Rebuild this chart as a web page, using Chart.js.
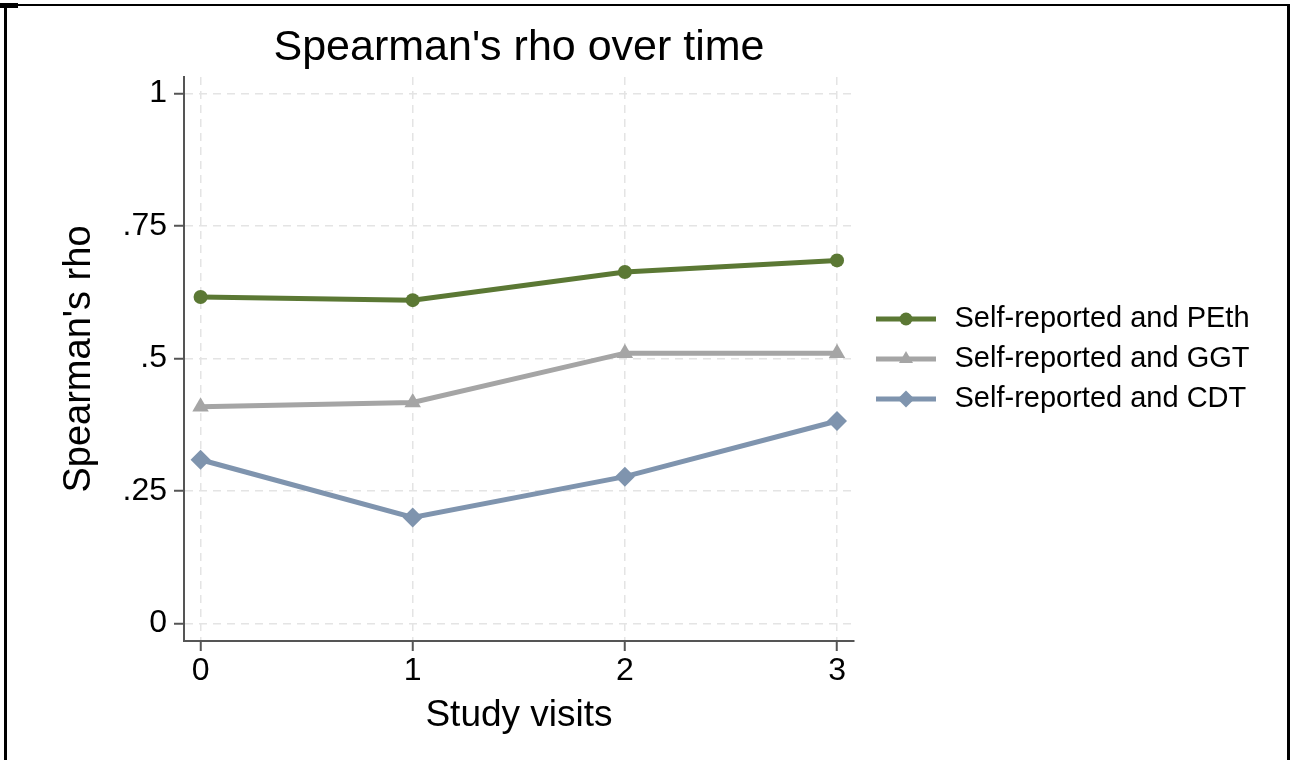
<!DOCTYPE html>
<html>
<head>
<meta charset="utf-8">
<script src="https://cdn.jsdelivr.net/npm/chart.js@4.4.0/dist/chart.umd.min.js"></script>
<style>
html,body{margin:0;padding:0;background:#fff;}
#wrap{position:absolute;left:0;top:0;width:1290px;height:760px;overflow:hidden;}
canvas{position:absolute;left:0;top:0;}
#frame{position:absolute;left:4px;top:4px;width:1286px;height:780px;border-left:3px solid #000;border-top:2px solid #000;border-right:3px solid #000;box-sizing:border-box;}
#mark{position:absolute;left:0;top:3px;width:18px;height:5px;background:#000;}
</style>
</head>
<body>
<div id="wrap">
<canvas id="c" width="1290" height="760"></canvas>
<div id="frame"></div>
<div id="mark"></div>
</div>
<script>
// ---- data ----
const visits = [0, 1, 2, 3];
const pethRho = [0.616, 0.610, 0.663, 0.685];
const ggtRho = [0.409, 0.417, 0.510, 0.510];
const cdtRho = [0.309, 0.200, 0.277, 0.382];
const seriesLabels = ['Self-reported and PEth', 'Self-reported and GGT', 'Self-reported and CDT'];
const yTickValues = [0, 0.25, 0.5, 0.75, 1];
const yTickLabels = ['0', '.25', '.5', '.75', '1'];
const xTickValues = [0, 1, 2, 3];
const xTickLabels = ['0', '1', '2', '3'];

// ---- styles ----
const FONT = "'Liberation Sans', Arial, Helvetica, sans-serif";
const colors = ['#5b7834', '#a5a5a5', '#7f94ae'];
const shapes = ['circle', 'triangle', 'rectRot'];
const radii = [7, 9.5, 10];
const LEGEND_FONT = 29, LEGEND_PAD = 11, ICON_W = 75;

function makeIcon(color, shape) {
  const c = document.createElement('canvas');
  c.width = ICON_W; c.height = 22;
  const g = c.getContext('2d');
  g.strokeStyle = color; g.fillStyle = color; g.lineWidth = 5;
  g.beginPath(); g.moveTo(11, 11); g.lineTo(71, 11); g.stroke();
  const cx = 41, cy = 11;
  g.beginPath();
  if (shape === 'circle') { g.arc(cx, cy, 6.5, 0, Math.PI * 2); }
  else if (shape === 'triangle') { g.moveTo(cx, cy - 8); g.lineTo(cx + 7, cy + 4); g.lineTo(cx - 7, cy + 4); g.closePath(); }
  else { g.moveTo(cx, cy - 8.5); g.lineTo(cx + 8.5, cy); g.lineTo(cx, cy + 8.5); g.lineTo(cx - 8.5, cy); g.closePath(); }
  g.fill();
  return c;
}
const icons = colors.map((c, i) => makeIcon(c, shapes[i]));

// measure legend width to place the plot area's right edge
const mctx = document.createElement('canvas').getContext('2d');
mctx.font = LEGEND_FONT + 'px ' + FONT;
const maxText = Math.max(...seriesLabels.map(t => mctx.measureText(t).width));
const legendW = LEGEND_PAD + ICON_W + LEGEND_FONT / 2 + maxText + 10;
const PLOT_RIGHT = 854;
const padRight = Math.max(0, 1290 - PLOT_RIGHT - legendW);

const seriesValues = [pethRho, ggtRho, cdtRho];
const datasets = seriesValues.map((vals, i) => ({
  label: seriesLabels[i],
  data: visits.map((v, k) => ({ x: v, y: vals[k] })),
  borderColor: colors[i],
  backgroundColor: colors[i],
  borderWidth: 5,
  pointStyle: shapes[i],
  pointRadius: radii[i],
  pointBorderWidth: 0,
  pointBackgroundColor: colors[i],
  pointBorderColor: colors[i],
  tension: 0,
  fill: false,
  clip: false
}));
Chart.defaults.font.family = FONT;
Chart.defaults.color = '#000';

new Chart(document.getElementById('c'), {
  type: 'line',
  data: { datasets },
  options: {
    responsive: false,
    animation: false,
    devicePixelRatio: 1,
    layout: { padding: { left: 40, right: padRight, top: 10, bottom: 0 } },
    plugins: {
      title: {
        display: true,
        text: "Spearman's rho over time",
        fullSize: false,
        color: '#000',
        font: { size: 43, weight: 'normal' },
        padding: { top: 12.7, bottom: 2.7 }
      },
      legend: {
        display: true,
        position: 'right',
        fullSize: false,
        align: 'center',
        maxWidth: 600,
        labels: {
          usePointStyle: true,
          pointStyleWidth: ICON_W,
          boxHeight: LEGEND_FONT,
          padding: LEGEND_PAD,
          color: '#000',
          font: { size: LEGEND_FONT },
          generateLabels: (chart) => chart.data.datasets.map((ds, i) => ({
            text: ds.label,
            pointStyle: icons[i],
            fillStyle: ds.borderColor,
            strokeStyle: ds.borderColor,
            lineWidth: 0,
            hidden: false,
            datasetIndex: i
          }))
        }
      },
      tooltip: { enabled: false }
    },
    scales: {
      x: {
        type: 'linear',
        min: -0.078,
        max: 3.08,
        afterFit: (s) => { s.height = 119; },
        afterBuildTicks: (s) => { s.ticks = xTickValues.map(v => ({ value: v })); },
        ticks: {
          autoSkip: false,
          maxRotation: 0,
          padding: 1,
          color: '#000',
          font: { size: 32 },
          callback: (v) => xTickLabels[xTickValues.indexOf(v)]
        },
        grid: {
          color: '#e4e4e4',
          lineWidth: 1.5,
          drawTicks: true,
          tickLength: 10,
          tickColor: '#555',
          tickWidth: 2
        },
        border: { display: true, color: '#555', width: 2, dash: [8, 6] },
        title: {
          display: true,
          text: 'Study visits',
          color: '#000',
          font: { size: 37 },
          padding: { top: 0, bottom: 22.5 }
        }
      },
      y: {
        type: 'linear',
        min: -0.033,
        max: 1.031,
        afterFit: (s) => { s.width = 144; },
        afterBuildTicks: (s) => { s.ticks = yTickValues.map(v => ({ value: v })); },
        ticks: {
          autoSkip: false,
          padding: 7,
          color: '#000',
          font: { size: 32 },
          callback: (v) => yTickLabels[yTickValues.indexOf(v)]
        },
        grid: {
          color: '#e4e4e4',
          lineWidth: 1.5,
          drawTicks: true,
          tickLength: 10,
          tickColor: '#555',
          tickWidth: 2
        },
        border: { display: true, color: '#555', width: 2, dash: [8, 6] },
        title: {
          display: true,
          text: "Spearman's rho",
          color: '#000',
          font: { size: 38 },
          padding: { top: 17.2, bottom: 0 }
        }
      }
    }
  }
});
</script>
</body>
</html>
